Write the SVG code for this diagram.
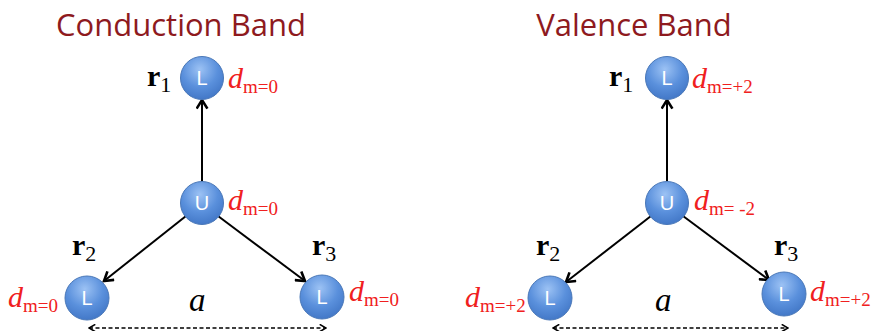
<svg xmlns="http://www.w3.org/2000/svg" width="875" height="331" viewBox="0 0 875 331">
<defs>
<radialGradient id="g" cx="0.45" cy="0.3" r="0.75">
<stop offset="0" stop-color="#9cc2f4"/>
<stop offset="0.55" stop-color="#5a90dc"/>
<stop offset="1" stop-color="#3f74c4"/>
</radialGradient>
<marker id="ah" viewBox="0 0 12 12" refX="10" refY="6" markerWidth="13" markerHeight="13" markerUnits="userSpaceOnUse" orient="auto">
<path d="M2,1 L10,6 L2,11" fill="none" stroke="#000" stroke-width="2.4"/>
</marker>
<marker id="dh" viewBox="0 0 10 10" refX="9" refY="5" markerWidth="9" markerHeight="9" markerUnits="userSpaceOnUse" orient="auto-start-reverse">
<path d="M2,1 L9,5 L2,9" fill="none" stroke="#000" stroke-width="1.8"/>
</marker>
</defs>
<style>
.title{font-family:"Open Sans","Liberation Sans",sans-serif;font-size:31px;fill:#8e1a1e;text-anchor:middle}
.node circle{fill:url(#g);stroke:#4a78b8;stroke-width:1}
.node text{font-family:"Liberation Sans",sans-serif;font-size:20px;fill:#fff;text-anchor:middle}
.r{font-family:"Liberation Serif",serif;font-size:30px;font-weight:bold;fill:#000}
.rs{font-family:"Liberation Serif",serif;font-size:22px;font-weight:normal}
.d{font-family:"Liberation Serif",serif;font-size:30px;font-style:italic;fill:#f02020}
.ds{font-family:"Liberation Serif",serif;font-size:19px;font-style:normal}
.a{font-family:"Liberation Serif",serif;font-size:33px;font-style:italic;fill:#000}
.arr{stroke:#000;stroke-width:2;fill:none;marker-end:url(#ah)}
.dash{stroke:#000;stroke-width:1.6;stroke-dasharray:4 2.5;fill:none;marker-start:url(#dh);marker-end:url(#dh)}
</style>
<text class="title" x="181" y="36">Conduction Band</text>
<text class="title" x="634" y="36">Valence Band</text>
<g id="connectors">
<line class="arr" x1="202" y1="181" x2="202" y2="100"/>
<line class="arr" x1="186" y1="216" x2="104" y2="281"/>
<line class="arr" x1="218" y1="216" x2="305" y2="281"/>
<line class="dash" x1="89" y1="328" x2="326" y2="328"/>
<line class="arr" x1="667" y1="181" x2="667" y2="100"/>
<line class="arr" x1="651" y1="216" x2="566" y2="282"/>
<line class="arr" x1="683" y1="216" x2="769" y2="280"/>
<line class="dash" x1="553" y1="328" x2="788" y2="328"/>
</g>
<g id="cb-top" class="node"><circle cx="202" cy="78" r="21.5"/><text x="202" y="85">L</text></g>
<g id="cb-center" class="node"><circle cx="202" cy="203" r="21.5"/><text x="202" y="210">U</text></g>
<g id="cb-left" class="node"><circle cx="87" cy="298" r="22"/><text x="87" y="305">L</text></g>
<g id="cb-right" class="node"><circle cx="322" cy="297" r="22"/><text x="322" y="304">L</text></g>
<g id="vb-top" class="node"><circle cx="667" cy="78" r="21.5"/><text x="667" y="85">L</text></g>
<g id="vb-center" class="node"><circle cx="667" cy="203" r="21.5"/><text x="667" y="210">U</text></g>
<g id="vb-left" class="node"><circle cx="550" cy="298" r="22"/><text x="550" y="305">L</text></g>
<g id="vb-right" class="node"><circle cx="784" cy="294" r="22"/><text x="784" y="301">L</text></g>
<text class="r" x="147" y="86">r<tspan class="rs" dy="6">1</tspan></text>
<text class="r" x="72" y="255">r<tspan class="rs" dy="6">2</tspan></text>
<text class="r" x="312" y="255">r<tspan class="rs" dy="6">3</tspan></text>
<text class="r" x="609" y="86">r<tspan class="rs" dy="6">1</tspan></text>
<text class="r" x="536" y="255">r<tspan class="rs" dy="6">2</tspan></text>
<text class="r" x="774" y="255">r<tspan class="rs" dy="6">3</tspan></text>
<text class="d" x="228" y="88">d<tspan class="ds" dy="5">m=0</tspan></text>
<text class="d" x="228" y="210">d<tspan class="ds" dy="5">m=0</tspan></text>
<text class="d" x="8" y="307">d<tspan class="ds" dy="5">m=0</tspan></text>
<text class="d" x="349" y="301">d<tspan class="ds" dy="5">m=0</tspan></text>
<text class="d" x="692" y="88">d<tspan class="ds" dy="5">m=+2</tspan></text>
<text class="d" x="694" y="210">d<tspan class="ds" dy="5">m= -2</tspan></text>
<text class="d" x="465" y="307">d<tspan class="ds" dy="5">m=+2</tspan></text>
<text class="d" x="810" y="301">d<tspan class="ds" dy="5">m=+2</tspan></text>
<text class="a" x="189" y="311">a</text>
<text class="a" x="655" y="311">a</text>
</svg>
